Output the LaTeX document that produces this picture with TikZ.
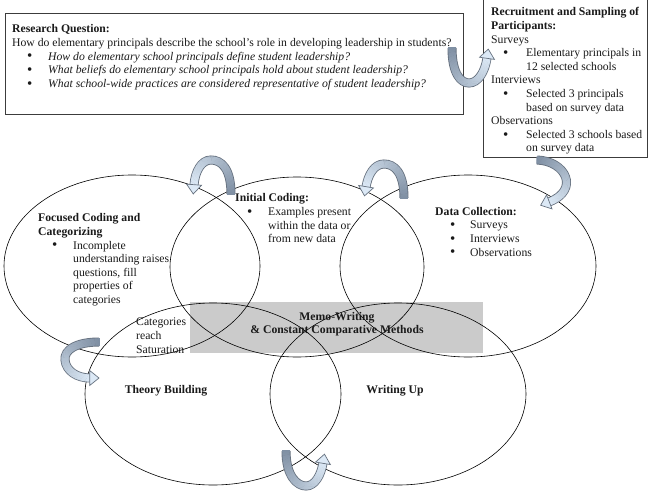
\documentclass[tikz,border=0pt]{standalone}
\usepackage{fontspec}
\setmainfont{Liberation Serif}
\usetikzlibrary{decorations.markings}
\definecolor{arrowdark}{HTML}{7F8FA3}
\definecolor{arrowlight}{HTML}{DCE9F6}
\definecolor{arrowline}{HTML}{66717F}
\definecolor{memogray}{HTML}{CBCBCB}
\definecolor{boxline}{HTML}{3C3C3C}
\definecolor{inktext}{HTML}{1A1A1A}
\newcommand\bodyfont{\fontsize{11.7}{13.6}\selectfont}
\newcommand\bul[1]{\makebox[#1][l]{\raisebox{-0.8pt}{\fontsize{15}{15}\selectfont\textbullet}}}
\newcommand\bendarrow[1]{%
  \draw[arrowline, line width=9pt] #1;
  \path[decorate, decoration={markings,
     mark=between positions 0 and 1 step 0.8pt with {%
       \pgfmathtruncatemacro\pct{100*\pgfkeysvalueof{/pgf/decoration/mark info/distance from start}/\pgfdecoratedpathlength}%
       \fill[arrowlight!\pct!arrowdark] (-0.6pt,-3.6pt) rectangle (0.6pt,3.6pt);},
     mark=at position 1 with {\filldraw[fill=arrowlight, draw=arrowline, line width=0.7pt, line join=miter] (-0.3pt,-7.5pt) -- (9pt,0pt) -- (-0.3pt,7.5pt) -- cycle;}}] #1;
}
\tikzset{
  txt/.style={anchor=north west, inner sep=0pt, align=left, font=\bodyfont, text=inktext},
  ctxt/.style={inner sep=0pt, align=center, font=\bodyfont\bfseries, text=inktext},
  ell/.style={draw=black, line width=0.6pt},
  framebox/.style={draw=boxline, line width=1pt}
}
\begin{document}
\begin{tikzpicture}[x=1pt,y=-1pt]
\useasboundingbox (0,0) rectangle (650,495);
\fill[white] (0,0) rectangle (650,495);
% gray memo band
\fill[memogray] (190,302) rectangle (483,353);
% ellipses
\draw[ell] (132,266) ellipse (128 and 91);
\draw[ell] (297,267) ellipse (127 and 90);
\draw[ell] (468,266) ellipse (128 and 91);
\draw[ell] (213,394) ellipse (128 and 91);
\draw[ell] (398,394) ellipse (128 and 91);
% boxes
\draw[framebox] (5,14) rectangle (463,114);
\draw[framebox] (483,-2) rectangle (647,157);
% texts
\node[txt] (rq) at (12,24.5) {\textbf{Research Question:}\\
How do elementary principals describe the school’s role in developing leadership in students?\\
\hspace*{15pt}\bul{21pt}\textit{How do elementary school principals define student leadership?}\\
\hspace*{15pt}\bul{21pt}\textit{What beliefs do elementary school principals hold about student leadership?}\\
\hspace*{15pt}\bul{21pt}\textit{What school-wide practices are considered representative of student leadership?}};
\node[txt] (rs) at (491,7.5) {\textbf{Recruitment and Sampling of}\\
\textbf{Participants:}\\
Surveys\\
\hspace*{12pt}\bul{23pt}Elementary principals in\\
\hspace*{35pt}12 selected schools\\
Interviews\\
\hspace*{12pt}\bul{23pt}Selected 3 principals\\
\hspace*{35pt}based on survey data\\
Observations\\
\hspace*{12pt}\bul{23pt}Selected 3 schools based\\
\hspace*{35pt}on survey data};
\node[txt] (fc) at (38,213.5) {\textbf{Focused Coding and}\\
\textbf{Categorizing}\\
\hspace*{14pt}\bul{21pt}Incomplete\\
\hspace*{35pt}understanding raises\\
\hspace*{35pt}questions, fill\\
\hspace*{35pt}properties of\\
\hspace*{35pt}categories};
\node[txt] (ic) at (235,193.5) {\textbf{Initial Coding:}\\
\hspace*{12pt}\bul{21pt}Examples present\\
\hspace*{33pt}within the data or\\
\hspace*{33pt}from new data};
\node[txt] (dc) at (435,207) {\textbf{Data Collection:}\\
\hspace*{15pt}\bul{20pt}Surveys\\
\hspace*{15pt}\bul{20pt}Interviews\\
\hspace*{15pt}\bul{20pt}Observations};
\node[txt] (cat) at (136,318) {Categories\\reach\\Saturation};
\node[ctxt, anchor=base] (tb) at (166,393) {Theory Building};
\node[ctxt, anchor=base] (wu) at (395,393) {Writing Up};
\node[ctxt, anchor=north] (memo) at (337,312) {Memo-Writing\\\& Constant Comparative Methods};
% curved block arrows
\bendarrow{(452,48) .. controls (452,74) and (461,83) .. (469,83) .. controls (478,83) and (485,72) .. (487,58)}
\bendarrow{(537,160) .. controls (566,161) and (580,190) .. (549,202)}
\bendarrow{(404,198) .. controls (404,172) and (394,164) .. (384,164) .. controls (374,164) and (368,175) .. (366,187)}
\bendarrow{(231,194) .. controls (231,168) and (221,160) .. (211,160) .. controls (201,160) and (195,172) .. (194,185)}
\bendarrow{(99,342) .. controls (76,342) and (64,350) .. (65,360) .. controls (66,371) and (77,378) .. (90,378)}
\bendarrow{(286,451) .. controls (286,476) and (297,486) .. (306,486) .. controls (315,486) and (321,475) .. (323,463)}
\end{tikzpicture}
\end{document}
